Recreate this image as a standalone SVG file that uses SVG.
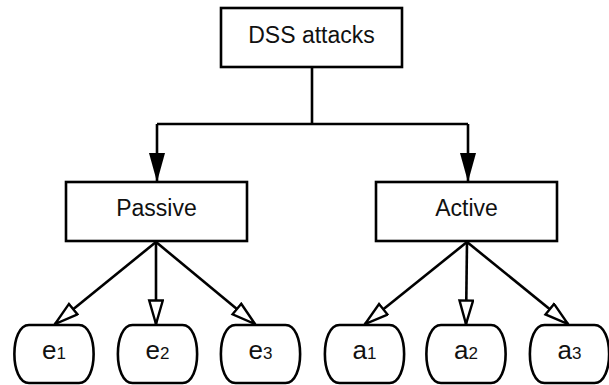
<svg xmlns="http://www.w3.org/2000/svg" width="609" height="385" viewBox="0 0 609 385">
  <style>
    .box { fill: #ffffff; stroke: #000000; stroke-width: 2.6; }
    .edge { fill: none; stroke: #000000; stroke-width: 2.6; }
    .title { font-family: "Liberation Sans", Arial, sans-serif; font-size: 23px; fill: #111111; text-anchor: middle; }
    .leaf { font-family: "Liberation Sans", Arial, sans-serif; font-size: 26px; fill: #111111; text-anchor: middle; }
    .sub { font-size: 17px; }
  </style>
  <defs>
    <marker id="solid" markerUnits="userSpaceOnUse" markerWidth="30" markerHeight="18" refX="29" refY="8" orient="auto">
      <path d="M0,0 L29,8 L0,16 Z" fill="#000000"/>
    </marker>
    <marker id="hollow" markerUnits="userSpaceOnUse" markerWidth="28" markerHeight="18" refX="25" refY="8" orient="auto">
      <path d="M1.5,1.2 L25,8 L1.5,14.8 Z" fill="#ffffff" stroke="#000000" stroke-width="2.4" stroke-linejoin="miter"/>
    </marker>
    <path id="leafShape" d="M -25,-29 H 25 C 44.5,-29 44.5,29 25,29 H -25 C -44.5,29 -44.5,-29 -25,-29 Z"/>
  </defs>

  <g id="connectors">
    <!-- root to second level -->
    <path class="edge" d="M312,67 V124"/>
    <path class="edge" d="M157,124 H468"/>
    <path class="edge" d="M157,124 V182" marker-end="url(#solid)"/>
    <path class="edge" d="M468,124 V182" marker-end="url(#solid)"/>
    <!-- Passive to leaves -->
    <path class="edge" d="M156,242 L55,324" marker-end="url(#hollow)"/>
    <path class="edge" d="M156,242 L156,324" marker-end="url(#hollow)"/>
    <path class="edge" d="M156,242 L255,324" marker-end="url(#hollow)"/>
    <!-- Active to leaves -->
    <path class="edge" d="M467,242 L365,324" marker-end="url(#hollow)"/>
    <path class="edge" d="M467,242 L466,324" marker-end="url(#hollow)"/>
    <path class="edge" d="M467,242 L568,324" marker-end="url(#hollow)"/>
  </g>

  <g id="dss-attacks">
    <rect class="box" x="221" y="8" width="181" height="59"/>
    <text class="title" x="311.5" y="43">DSS attacks</text>
  </g>
  <g id="passive">
    <rect class="box" x="66" y="182" width="181" height="59"/>
    <text class="title" x="156.5" y="216">Passive</text>
  </g>
  <g id="active">
    <rect class="box" x="376" y="182" width="181" height="59"/>
    <text class="title" x="466.5" y="216">Active</text>
  </g>

  <g id="e1" transform="translate(54,354)">
    <use href="#leafShape" class="box"/>
    <text class="leaf" x="0" y="5">e<tspan class="sub">1</tspan></text>
  </g>
  <g id="e2" transform="translate(157.5,354)">
    <use href="#leafShape" class="box"/>
    <text class="leaf" x="0" y="5">e<tspan class="sub">2</tspan></text>
  </g>
  <g id="e3" transform="translate(260.5,354)">
    <use href="#leafShape" class="box"/>
    <text class="leaf" x="0" y="5">e<tspan class="sub">3</tspan></text>
  </g>
  <g id="a1" transform="translate(364.5,354)">
    <use href="#leafShape" class="box"/>
    <text class="leaf" x="0" y="5">a<tspan class="sub">1</tspan></text>
  </g>
  <g id="a2" transform="translate(466,354)">
    <use href="#leafShape" class="box"/>
    <text class="leaf" x="0" y="5">a<tspan class="sub">2</tspan></text>
  </g>
  <g id="a3" transform="translate(569.5,354)">
    <use href="#leafShape" class="box"/>
    <text class="leaf" x="0" y="5">a<tspan class="sub">3</tspan></text>
  </g>
</svg>
